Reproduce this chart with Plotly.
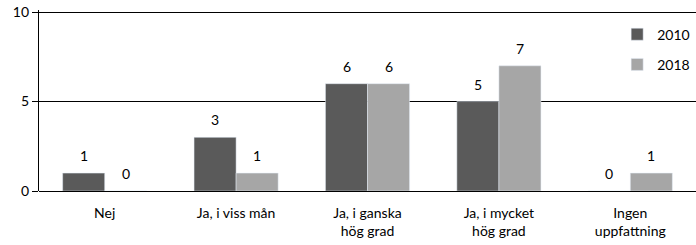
import plotly.graph_objects as go

categories = ["Nej", "Ja, i viss mån", "Ja, i ganska<br>hög grad", "Ja, i mycket<br>hög grad", "Ingen<br>uppfattning"]
series_2010 = [1, 3, 6, 5, 0]
series_2018 = [0, 1, 6, 7, 1]
y_ticks = [0, 5, 10]

FONT = "Lato"
fig = go.Figure()
fig.add_trace(go.Bar(x=categories, y=series_2010, name="2010", marker_color="#5a5a5a",
                     legendgroup="a"))
fig.add_trace(go.Bar(x=categories, y=series_2018, name="2018", marker_color="#a6a6a6",
                     legendgroup="b"))

# value labels above each bar (placed via the axes, shifted to the bar in its group)
for vals, dx in ((series_2010, -21), (series_2018, 21)):
    for c, v in zip(categories, vals):
        fig.add_annotation(x=c, y=v, xref="x", yref="y", text=str(v), showarrow=False,
                           yanchor="bottom", xshift=dx, yshift=7,
                           font=dict(family=FONT, size=14, color="black"))

fig.update_layout(
    width=696, height=245,
    margin=dict(l=39, r=0, t=10, b=54, autoexpand=False),
    paper_bgcolor="white", plot_bgcolor="white",
    font=dict(family=FONT, size=14, color="black"),
    barmode="group", bargap=0.36, bargroupgap=0,
    legend=dict(x=0.88, y=0.9525, xanchor="left", yanchor="top", tracegroupgap=9,
                font=dict(size=14), bgcolor="rgba(0,0,0,0)", itemwidth=30),
    showlegend=True,
)
fig.update_xaxes(showgrid=False, showline=False, ticks="", tickfont=dict(size=14), automargin=False,
                 ticklabelstandoff=12)
fig.update_yaxes(range=[0, 10.12], tickvals=y_ticks, showgrid=True, gridcolor="black", gridwidth=1.3,
                 showline=True, linecolor="black", linewidth=1.3, ticks="outside", ticklen=6,
                 tickcolor="black", tickwidth=1.3, zeroline=True, zerolinecolor="black", zerolinewidth=1.3,
                 tickfont=dict(size=14), automargin=False, ticklabeloverflow="allow")

# remove the browser's default 8px body margin so the 696x245 figure fills the window
fig.write_html("out.html", config={"displayModeBar": False},
               post_script="document.body.style.margin='0';")
